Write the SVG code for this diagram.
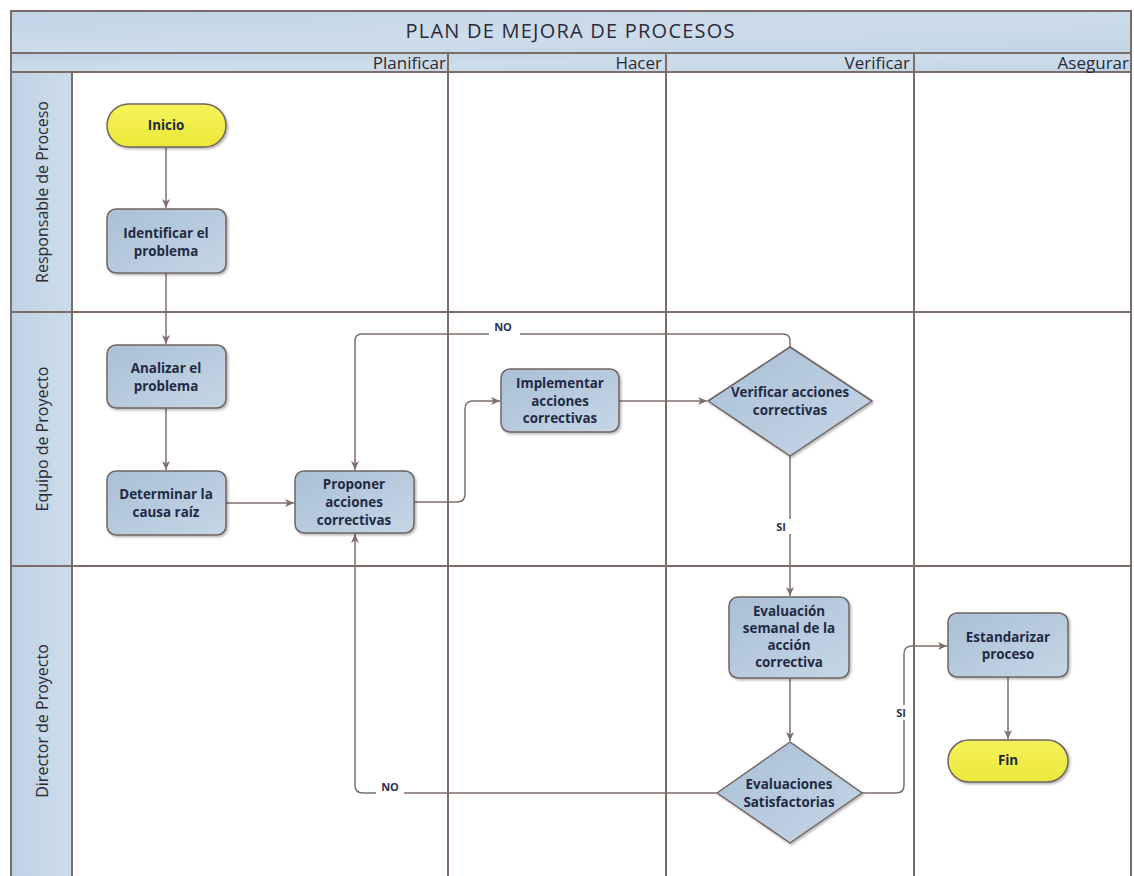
<svg xmlns="http://www.w3.org/2000/svg" width="1134" height="876" viewBox="0 0 1134 876">
<style>
.frame{fill:none;stroke:#7b6c68;stroke-width:2}
.band{fill:url(#bandG);stroke:#7b6c68;stroke-width:2}
.lane{fill:url(#laneG);stroke:#7b6c68;stroke-width:2}
.div{stroke:#7b6c68;stroke-width:2}
.proc{fill:url(#procG);stroke:#6f6461;stroke-width:1.5;filter:url(#sh)}
.term{fill:url(#termG);stroke:#6f6461;stroke-width:1.5;filter:url(#sh)}
.t{font-family:"Open Sans","Liberation Sans",sans-serif;font-size:13.4px;font-weight:bold;fill:#1f2a44;text-anchor:middle}
.hd{font-family:"Open Sans","Liberation Sans",sans-serif;font-size:17px;fill:#2a2a33;text-anchor:end}
.ln{font-family:"Open Sans","Liberation Sans",sans-serif;font-size:16px;fill:#2a2a33;text-anchor:middle}
.ttl{font-family:"Open Sans","Liberation Sans",sans-serif;font-size:20px;fill:#2a2a3a;text-anchor:middle}
.c{fill:none;stroke:#7f6f6b;stroke-width:1.5}
.cl{font-family:"Open Sans","Liberation Sans",sans-serif;font-size:11px;font-weight:bold;fill:#2a3050;text-anchor:middle}
</style>
<defs>
<linearGradient id="bandG" x1="0" y1="0" x2="1" y2="1"><stop offset="0" stop-color="#c0d3e5"/><stop offset="0.5" stop-color="#cddcea"/><stop offset="1" stop-color="#c3d5e6"/></linearGradient>
<linearGradient id="laneG" x1="0" y1="0" x2="1" y2="0"><stop offset="0" stop-color="#bfd2e4"/><stop offset="1" stop-color="#cddceb"/></linearGradient>
<linearGradient id="procG" x1="0" y1="0" x2="1" y2="1"><stop offset="0" stop-color="#a9c0d6"/><stop offset="1" stop-color="#c6d6e5"/></linearGradient>
<linearGradient id="termG" x1="0" y1="0" x2="0" y2="1"><stop offset="0" stop-color="#f4f25a"/><stop offset="1" stop-color="#ece83a"/></linearGradient>
<filter id="sh" x="-10%" y="-10%" width="125%" height="130%"><feDropShadow dx="1.5" dy="1.5" stdDeviation="1.2" flood-color="#000" flood-opacity="0.3"/></filter>
<marker id="ar" markerWidth="10" markerHeight="10" refX="9" refY="5" orient="auto" markerUnits="userSpaceOnUse"><path d="M0,1 L9,5 L0,9 L2.5,5 Z" fill="#7f6f6b"/></marker>
</defs>
<rect width="1134" height="876" fill="#fff"/>
<g id="pool">
<rect class="band" x="11" y="11" width="1120" height="42"/>
<text class="ttl" x="570" y="38" textLength="329" lengthAdjust="spacing">PLAN DE MEJORA DE PROCESOS</text>
<rect class="band" x="11" y="53" width="1120" height="19"/>
<rect class="lane" x="11" y="72" width="61" height="810"/>
<line class="div" x1="11" y1="72" x2="11" y2="876"/>
<line class="div" x1="1131" y1="72" x2="1131" y2="876"/>
<line class="div" x1="448" y1="53" x2="448" y2="876"/>
<line class="div" x1="666" y1="53" x2="666" y2="876"/>
<line class="div" x1="914" y1="53" x2="914" y2="876"/>
<line class="div" x1="11" y1="312" x2="1131" y2="312"/>
<line class="div" x1="11" y1="566" x2="1131" y2="566"/>
<text class="hd" x="446" y="69">Planificar</text>
<text class="hd" x="662" y="69">Hacer</text>
<text class="hd" x="910" y="69">Verificar</text>
<text class="hd" x="1129" y="69">Asegurar</text>
<text class="ln" transform="translate(48,192) rotate(-90)">Responsable de Proceso</text>
<text class="ln" transform="translate(48,439) rotate(-90)">Equipo de Proyecto</text>
<text class="ln" transform="translate(48,721) rotate(-90)">Director de Proyecto</text>
</g>
<g id="connectors">
<path class="c" d="M166,147 V208" marker-end="url(#ar)"/>
<path class="c" d="M166,273 V344" marker-end="url(#ar)"/>
<path class="c" d="M166,408 V470" marker-end="url(#ar)"/>
<path class="c" d="M226,503 H294" marker-end="url(#ar)"/>
<path class="c" d="M414,502 H457 Q465,502 465,494 V409 Q465,401 473,401 H500" marker-end="url(#ar)"/>
<path class="c" d="M619,401 H707" marker-end="url(#ar)"/>
<path class="c" d="M790,347 V341 Q790,334 783,334 H520 M489,334 H362 Q355,334 355,341 V470" marker-end="url(#ar)"/>
<text class="cl" x="503" y="331">NO</text>
<path class="c" d="M790,456 V519 M790,534 V596" marker-end="url(#ar)"/>
<text class="cl" x="781" y="531">SI</text>
<path class="c" d="M717,793 H404 M376,793 H363 Q355,793 355,785 V534" marker-end="url(#ar)"/>
<text class="cl" x="390" y="791">NO</text>
<path class="c" d="M790,678 V741" marker-end="url(#ar)"/>
<path class="c" d="M862,793 H896 Q904,793 904,785 V720 M904,705 V654 Q904,646 912,646 H947" marker-end="url(#ar)"/>
<text class="cl" x="901" y="717">SI</text>
<path class="c" d="M1008,677 V739" marker-end="url(#ar)"/>
</g>
<g id="n-inicio"><rect class="term" x="107" y="104" width="119" height="43" rx="21.5"/><text class="t" x="166" y="130">Inicio</text></g>
<g id="n-identificar"><rect class="proc" x="107" y="209" width="119" height="64" rx="9"/><text class="t" x="166" y="238">Identificar el</text><text class="t" x="166" y="256">problema</text></g>
<g id="n-analizar"><rect class="proc" x="107" y="345" width="119" height="63" rx="9"/><text class="t" x="166" y="373">Analizar el</text><text class="t" x="166" y="391">problema</text></g>
<g id="n-determinar"><rect class="proc" x="107" y="471" width="119" height="64" rx="9"/><text class="t" x="166" y="499">Determinar la</text><text class="t" x="166" y="517">causa raíz</text></g>
<g id="n-proponer"><rect class="proc" x="295" y="471" width="119" height="62" rx="9"/><text class="t" x="354" y="489">Proponer</text><text class="t" x="354" y="507">acciones</text><text class="t" x="354" y="525">correctivas</text></g>
<g id="n-implementar"><rect class="proc" x="501" y="369" width="118" height="63" rx="9"/><text class="t" x="560" y="388">Implementar</text><text class="t" x="560" y="406">acciones</text><text class="t" x="560" y="423">correctivas</text></g>
<g id="n-verificar"><path class="proc" d="M790,347 L872,401 L790,456 L708,401 Z" stroke-linejoin="round"/><text class="t" x="790" y="397">Verificar acciones</text><text class="t" x="790" y="415">correctivas</text></g>
<g id="n-evaluacion"><rect class="proc" x="729" y="597" width="120" height="81" rx="9"/><text class="t" x="789" y="616">Evaluación</text><text class="t" x="789" y="633">semanal de la</text><text class="t" x="789" y="650">acción</text><text class="t" x="789" y="667">correctiva</text></g>
<g id="n-evaluaciones"><path class="proc" d="M790,742 L862,793 L790,843 L717,793 Z" stroke-linejoin="round"/><text class="t" x="789" y="789">Evaluaciones</text><text class="t" x="789" y="807">Satisfactorias</text></g>
<g id="n-estandarizar"><rect class="proc" x="948" y="613" width="120" height="64" rx="9"/><text class="t" x="1008" y="642">Estandarizar</text><text class="t" x="1008" y="659">proceso</text></g>
<g id="n-fin"><rect class="term" x="948" y="740" width="120" height="42" rx="21"/><text class="t" x="1008" y="765">Fin</text></g>
</svg>
